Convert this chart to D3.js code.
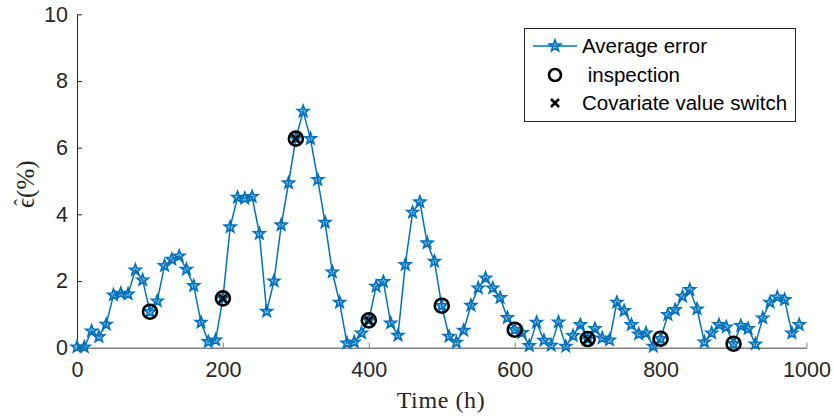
<!DOCTYPE html>
<html><head><meta charset="utf-8">
<script src="https://cdn.jsdelivr.net/npm/d3@7/dist/d3.min.js"></script>
<style>body{margin:0;background:#fff}svg{display:block}</style>
</head><body>
<script>
const times = d3.range(0, 1000, 10);
const avgError = [0.02,0.02,0.5,0.33,0.7,1.58,1.63,1.61,2.33,2.03,
1.08,1.4,2.46,2.65,2.75,2.35,1.86,0.76,0.18,0.23,
1.48,3.62,4.51,4.48,4.53,3.42,1.09,2.0,3.68,4.94,
6.27,7.09,6.27,5.04,3.76,2.27,1.36,0.14,0.17,0.44,
0.82,1.84,1.98,0.74,0.37,2.49,4.06,4.37,3.14,2.59,
1.26,0.34,0.16,0.52,1.27,1.79,2.09,1.79,1.5,0.9,
0.54,0.45,0.06,0.76,0.22,0.07,0.77,0.04,0.36,0.69,
0.26,0.57,0.29,0.23,1.36,1.11,0.69,0.41,0.44,0.04,
0.27,0.99,1.14,1.54,1.74,1.16,0.17,0.44,0.69,0.62,
0.12,0.66,0.57,0.11,0.89,1.36,1.52,1.44,0.44,0.69];
const inspections = [100,200,300,400,500,600,700,800,900];
const switches = [200,300,400,700];
const xTicks = [0,200,400,600,800,1000];
const yTicks = [0,2,4,6,8,10];
const legendLabels = ["Average error"," inspection","Covariate value switch"];

const W=834,H=417;
const svg=d3.select("body").append("svg").attr("width",W).attr("height",H);
const x=d3.scaleLinear().domain([0,1000]).range([77,806.5]);
const y=d3.scaleLinear().domain([0,10]).range([347.7,14.3]);
const blue="#0072BD", axc="#262626";
const valAt=t=>avgError[times.indexOf(t)];

function starPath(R){
  const r=R*0.42;let p=[];
  for(let i=0;i<10;i++){const a=-Math.PI/2+i*Math.PI/5;const rr=i%2?r:R;p.push([rr*Math.cos(a),rr*Math.sin(a)]);}
  return "M"+p.map(d=>d[0].toFixed(2)+","+d[1].toFixed(2)).join("L")+"Z";
}
const sp=starPath(6);

// axes
const xa=svg.append("g").attr("transform","translate(0,347.7)")
 .call(d3.axisBottom(x).tickValues(xTicks).tickFormat(d3.format("d")).tickSizeInner(-5).tickSizeOuter(0).tickPadding(14));
xa.select(".domain").attr("stroke","#808080").attr("stroke-width",1.5);
xa.selectAll(".tick line").attr("stroke","#808080");
xa.selectAll("text").attr("font-family","'Liberation Sans',Arial,sans-serif").attr("font-size",21.5).attr("fill",axc);
const ya=svg.append("g").attr("transform","translate(77,0)")
 .call(d3.axisLeft(y).tickValues(yTicks).tickSizeInner(-5).tickSizeOuter(0).tickPadding(9));
ya.select(".domain").attr("stroke",axc).attr("stroke-width",1);
ya.selectAll(".tick line").attr("stroke",axc);
ya.selectAll("text").attr("font-family","'Liberation Sans',Arial,sans-serif").attr("font-size",21.5).attr("fill",axc);

// line
const line=d3.line().x((d,i)=>x(times[i])).y(d=>y(d));
svg.append("path").datum(avgError).attr("d",line).attr("fill","none").attr("stroke",blue).attr("stroke-width",1.5);
svg.append("g").selectAll("path").data(avgError).join("path")
 .attr("transform",(d,i)=>`translate(${x(times[i])},${y(d)})`).attr("d",sp)
 .attr("fill",blue).attr("fill-opacity",0.45).attr("stroke",blue).attr("stroke-width",1.7);

// inspections
svg.append("g").selectAll("circle").data(inspections).join("circle")
 .attr("cx",d=>x(d)).attr("cy",d=>y(valAt(d))).attr("r",7)
 .attr("fill","none").attr("stroke","#000").attr("stroke-width",2.6);
// switches
const cross=s=>`M${-s},${-s}L${s},${s}M${-s},${s}L${s},${-s}`;
svg.append("g").selectAll("path").data(switches).join("path")
 .attr("transform",d=>`translate(${x(d)},${y(valAt(d))})`).attr("d",cross(4))
 .attr("fill","none").attr("stroke","#000").attr("stroke-width",2.5);

// labels
svg.append("text").attr("x",441).attr("y",408).attr("text-anchor","middle")
 .attr("font-family","'Liberation Serif','Times New Roman',serif").attr("font-size",24).attr("letter-spacing",0.6).attr("fill",axc).text("Time (h)");
const yl=svg.append("g").attr("transform","translate(34,208) rotate(-90)");
yl.append("text").attr("x",0).attr("y",0)
 .attr("font-family","'Liberation Serif','Times New Roman',serif").attr("font-size",25).attr("fill",axc).text("\u03F5(%)");
yl.append("text").attr("x",5.5).attr("y",-5).attr("text-anchor","middle")
 .attr("font-family","'Liberation Serif','Times New Roman',serif").attr("font-size",20).attr("fill",axc).text("\u02C6");

// legend
const lg=svg.append("g");
lg.append("rect").attr("x",524.5).attr("y",28.5).attr("width",271).attr("height",93)
 .attr("fill","#fff").attr("stroke",axc).attr("stroke-width",1);
const rows=[46,75,103];
lg.append("line").attr("x1",533).attr("x2",577).attr("y1",rows[0]).attr("y2",rows[0]).attr("stroke",blue).attr("stroke-width",1.5);
lg.append("path").attr("transform",`translate(555,${rows[0]})`).attr("d",sp).attr("fill",blue).attr("fill-opacity",0.45).attr("stroke",blue).attr("stroke-width",1.7);
lg.append("circle").attr("cx",555).attr("cy",rows[1]).attr("r",6).attr("fill","none").attr("stroke","#000").attr("stroke-width",2.6);
lg.append("path").attr("transform",`translate(555,${rows[2]})`).attr("d",cross(4)).attr("fill","none").attr("stroke","#000").attr("stroke-width",2.5);
lg.selectAll("text.l").data(legendLabels).join("text").attr("class","l")
 .attr("x",582).attr("y",(d,i)=>rows[i]).attr("dy","0.35em").attr("xml:space","preserve").style("white-space","pre")
 .attr("font-family","'Liberation Sans',Arial,sans-serif").attr("font-size",20.5).attr("fill","#000").text(d=>d);
</script>
</body></html>
